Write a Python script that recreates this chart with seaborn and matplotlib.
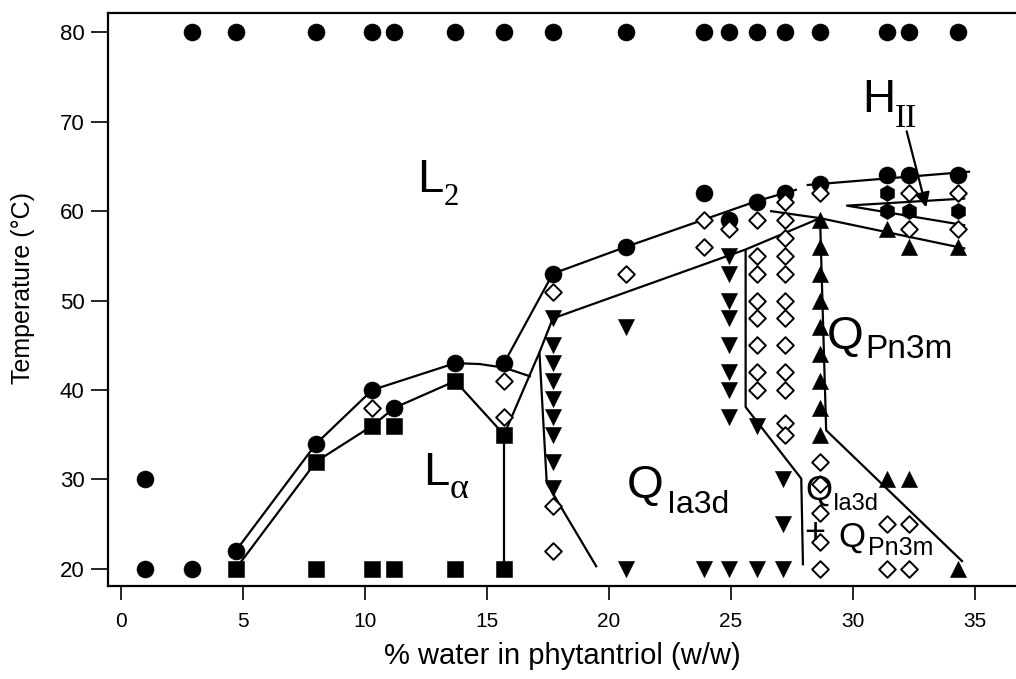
"""
Phase diagram of phytantriol / water - recreated with seaborn
"""

import matplotlib
matplotlib.use("Agg")
import matplotlib.pyplot as plt
import seaborn as sns

# ---- data points (x = % water w/w, t = temperature in C) ----
# L2 (filled circles)
l2_x = [1.0, 1.0, 2.9, 2.9, 4.7, 4.7, 8.0, 8.0, 10.3, 10.3, 11.2, 11.2,
        13.7, 13.7, 15.7, 15.7, 17.7, 17.7, 20.7, 20.7, 23.9, 23.9,
        24.9, 24.9, 26.05, 26.05, 27.2, 27.2, 28.65, 28.65, 31.4, 31.4,
        32.3, 32.3, 34.3, 34.3]
l2_t = [30, 20, 80, 20, 80, 22, 80, 34, 80, 40, 80, 38,
        80, 43, 80, 43, 80, 53, 80, 56, 80, 62,
        80, 59, 80, 61, 80, 62, 80, 63, 80, 64,
        80, 64, 80, 64]

# L-alpha (filled squares)
la_x = [4.7, 8.0, 8.0, 10.3, 10.3, 11.2, 11.2, 13.7, 13.7, 15.7, 15.7]
la_t = [20, 32, 20, 36, 20, 36, 20, 41, 20, 35, 20]

# two-phase / mixed (open diamonds)
mix_x = [10.3, 15.7, 15.7, 17.7, 17.7, 17.7, 20.7, 23.9, 23.9, 24.9,
         26.05, 26.05, 26.05, 26.05, 26.05, 26.05, 26.05, 26.05,
         27.2, 27.2, 27.2, 27.2, 27.2, 27.2, 27.2, 27.2, 27.2, 27.2, 27.2, 27.2,
         28.65, 28.65, 28.65, 28.65, 28.65, 28.65,
         31.4, 31.4, 32.3, 32.3, 32.3, 32.3, 34.3, 34.3]
mix_t = [38, 41, 37, 51, 27, 22, 53, 59, 56, 58,
         59, 55, 53, 50, 48, 45, 42, 40,
         61, 59, 57, 55, 53, 50, 48, 45, 42, 40, 36.3, 35,
         62, 32, 29.5, 26.3, 23, 20,
         25, 20, 62, 58, 25, 20, 62, 58]

# Q Ia3d (filled down triangles)
ia3d_x = [17.7] * 9 + [20.7, 20.7, 23.9] + [24.9] * 9 + [26.05, 26.05, 27.15, 27.15, 27.15]
ia3d_t = [48, 45, 43, 41, 39, 37, 35, 32, 29, 47, 20, 20,
          55, 53, 50, 48, 45, 42, 40, 37, 20, 36, 20, 30, 25, 20]

# Q Pn3m (filled up triangles)
pn3m_x = [28.65] * 9 + [31.4, 31.4, 32.3, 32.3, 34.3, 34.3]
pn3m_t = [59, 56, 53, 50, 47, 44, 41, 38, 35, 58, 30, 56, 30, 56, 20]

# HII (filled hexagons)
hii_x = [31.4, 31.4, 32.3, 34.3]
hii_t = [62, 60, 60, 60]

# ---- phase boundaries ----
boundaries = [
    ([4.7, 8.0, 10.3, 13.7, 14.7, 15.7, 16.8], [22, 34, 40, 43, 42.9, 42.5, 41.5]),
    ([4.7, 8.0, 10.3, 11.2, 13.7, 15.7, 17.15, 17.7, 25.6, 28.65],
     [20, 32, 36, 38, 41, 35, 44.2, 48, 55.7, 59.2]),
    ([15.7, 17.7, 20.7, 26.05, 27.7], [43, 53, 56, 61.1, 62.4]),
    ([28.1, 34.8], [62.9, 64.4]),
    ([15.7, 15.7], [35, 20]),
    ([17.15, 17.45, 19.5], [44.2, 29.6, 20.2]),
    ([25.6, 25.6, 27.88, 27.95], [55.7, 38.1, 30.1, 20.4]),
    ([26.6, 28.65, 34.6], [60.0, 59.2, 55.8]),
    ([28.65, 28.9, 34.5], [59.2, 35.5, 20.8]),
    ([34.6, 29.75, 34.6], [61.4, 60.6, 58.4]),
]

SANS = ["Liberation Sans", "DejaVu Sans"]
SERIF = ["Liberation Serif", "DejaVu Serif"]

sns.set_style("ticks")
plt.rcParams["font.family"] = SANS
plt.rcParams["text.color"] = "black"
plt.rcParams["axes.labelcolor"] = "black"
plt.rcParams["xtick.color"] = "black"
plt.rcParams["ytick.color"] = "black"

fig = plt.figure(figsize=(10.16, 6.79), dpi=100)
ax = fig.add_axes([108 / 1016, 93 / 679, 908 / 1016, 572.7 / 679])

for bx, bt in boundaries:
    ax.plot(bx, bt, color="black", lw=1.6, zorder=2, solid_capstyle="butt")

# arrow pointing into the HII wedge
ax.annotate("", xy=(33.0, 60.4), xytext=(32.2, 68.9),
            arrowprops=dict(arrowstyle="-|>", color="black", lw=1.6,
                            mutation_scale=22, shrinkA=0, shrinkB=0), zorder=4)

series = [
    (l2_x, l2_t, "o", 150, "black"),
    (la_x, la_t, "s", 125, "black"),
    (ia3d_x, ia3d_t, "v", 135, "black"),
    (pn3m_x, pn3m_t, "^", 135, "black"),
    (hii_x, hii_t, "h", 135, "black"),
    (mix_x, mix_t, "D", 72, "white"),
]
for sx, st, mk, size, face in series:
    sns.scatterplot(x=sx, y=st, marker=mk, s=size, color=face,
                    edgecolor="black", linewidth=1.4 if face == "white" else 0.4,
                    ax=ax, zorder=3, legend=False)

# ---- phase labels ----
def phase_label(x, t, main, sx, st, sub, size, subsize, subfam=SANS):
    ax.text(x, t, main, fontsize=size, family=SANS, ha="left", va="baseline", zorder=5)
    ax.text(sx, st, sub, fontsize=subsize, family=subfam, ha="left", va="baseline", zorder=5)

phase_label(12.13, 62.1, "L", 13.24, 60.7, "2", 34, 22, SERIF)
phase_label(12.38, 29.4, "L", 13.48, 27.9, "\u03b1", 34, 26, SERIF)
phase_label(30.37, 71.1, "H", 31.72, 69.4, "II", 33, 24, SERIF)
phase_label(20.74, 27.9, "Q", 22.38, 26.3, "Ia3d", 34, 23)
phase_label(28.93, 44.6, "Q", 30.5, 43.6, "Pn3m", 34, 24)
phase_label(28.03, 27.7, "Q", 29.18, 26.6, "Ia3d", 25, 17)
phase_label(29.39, 22.5, "Q", 30.6, 21.6, "Pn3m", 25, 18)
ax.text(28.44, 24.0, "+", fontsize=26, ha="center", va="center", zorder=5)

# ---- axes ----
ax.set_xlim(-0.53, 36.68)
ax.set_ylim(18.1, 82.09)
ax.set_xticks(range(0, 36, 5))
ax.set_yticks(range(20, 81, 10))
ax.spines["right"].set_visible(False)
for side in ["left", "bottom", "top"]:
    ax.spines[side].set_linewidth(1.6)
    ax.spines[side].set_color("black")
ax.tick_params(axis="both", direction="out", width=1.2, color="black")
ax.tick_params(axis="y", length=12, pad=5, labelsize=16)
ax.tick_params(axis="x", length=10, pad=9, labelsize=15)

ax.set_xlabel("% water in phytantriol (w/w)", fontsize=21, labelpad=8)
ax.set_ylabel("Temperature (\u00b0C)", fontsize=18)
ax.yaxis.set_label_coords(-0.08, 0.52)

fig.savefig("out.png", dpi=100)
